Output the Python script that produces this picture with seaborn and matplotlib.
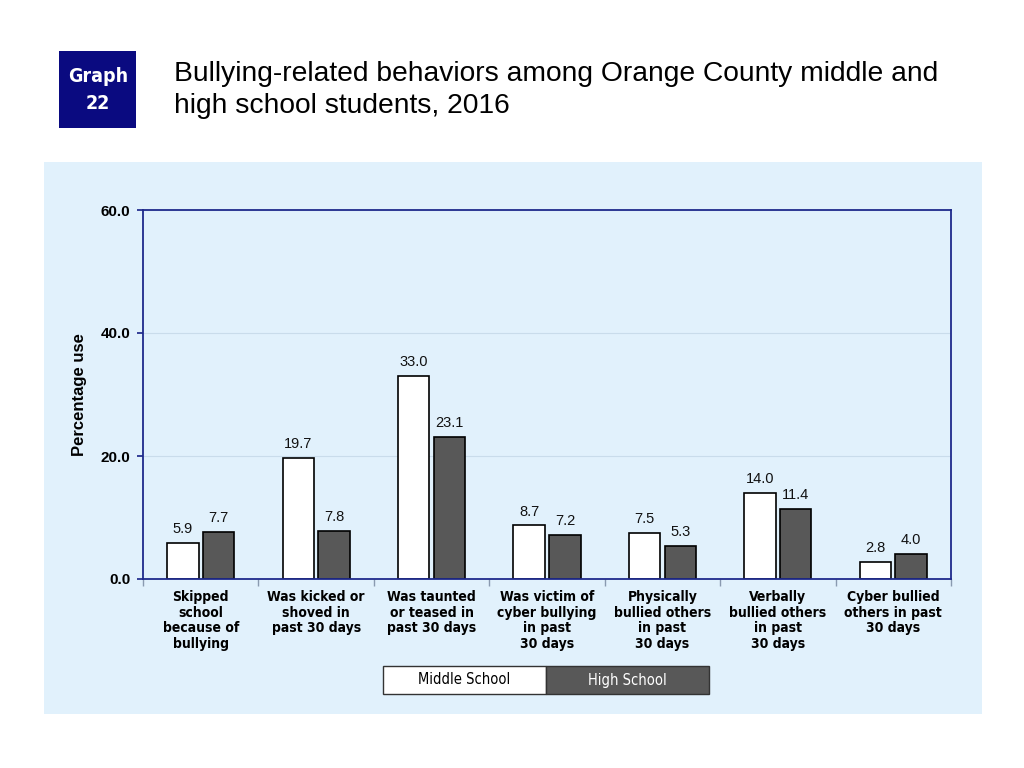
import matplotlib
matplotlib.use("Agg")
import matplotlib.pyplot as plt
import seaborn as sns
import pandas as pd
import numpy as np
from matplotlib.patches import Rectangle

categories = [
    "Skipped\nschool\nbecause of\nbullying",
    "Was kicked or\nshoved in\npast 30 days",
    "Was taunted\nor teased in\npast 30 days",
    "Was victim of\ncyber bullying\nin past\n30 days",
    "Physically\nbullied others\nin past\n30 days",
    "Verbally\nbullied others\nin past\n30 days",
    "Cyber bullied\nothers in past\n30 days",
]
middle_school = [5.9, 19.7, 33.0, 8.7, 7.5, 14.0, 2.8]
high_school = [7.7, 7.8, 23.1, 7.2, 5.3, 11.4, 4.0]
series = ["Middle School", "High School"]
y_ticks = [0, 20, 40, 60]

df = pd.DataFrame({
    "category": categories * 2,
    "value": middle_school + high_school,
    "group": [series[0]] * len(categories) + [series[1]] * len(categories),
})

sns.set_theme(style="white")
plt.rcParams["font.family"] = ["Liberation Sans", "DejaVu Sans"]
plt.rcParams["text.color"] = "black"
plt.rcParams["axes.labelcolor"] = "black"
plt.rcParams["xtick.color"] = "black"
plt.rcParams["ytick.color"] = "black"

BG = "#E1F1FC"
NAVY = "#1F2A8C"
DARK = "#585858"
COND = dict(family="DejaVu Sans", stretch="condensed")

fig = plt.figure(figsize=(10.24, 7.68), dpi=100)
fig.patch.set_facecolor("white")

# light blue panel
fig.patches.append(Rectangle((44 / 1024, 1 - 714 / 768), (982 - 44) / 1024, (714 - 162) / 768,
                             transform=fig.transFigure, facecolor=BG, edgecolor="none", zorder=-5))

# Graph box
fig.patches.append(Rectangle((59 / 1024, 1 - 128 / 768), 77 / 1024, 77 / 768,
                             transform=fig.transFigure, facecolor="#0A0A80", edgecolor="none", zorder=1))
fig.text(98 / 1024, 1 - 90 / 768, "Graph\n22", color="white", ha="center", va="center",
         fontsize=14, fontweight="bold", linespacing=1.5, zorder=2, **COND)

fig.text(174 / 1024, 1 - 90 / 768,
         "Bullying-related behaviors among Orange County middle and\nhigh school students, 2016",
         ha="left", va="center", fontsize=20.3, color="black", linespacing=1.33)

ax = fig.add_axes([143 / 1024, 1 - 579 / 768, 808 / 1024, 369 / 768], zorder=2)
ax.set_facecolor(BG)

sns.barplot(data=df, x="category", y="value", hue="group", order=categories,
            hue_order=series, palette=["white", DARK], width=0.62, gap=0.12,
            edgecolor="black", linewidth=1.2, ax=ax, legend=False)

for container in ax.containers:
    ax.bar_label(container, fmt="%.1f", padding=5, fontsize=10.5, color="#111111")

ax.set_ylim(0, 60)
ax.set_xlim(-0.5, len(categories) - 0.5)
ax.set_yticks(y_ticks)
ax.set_yticklabels([f"{v:.1f}" for v in y_ticks], fontsize=11, fontweight="bold")
ax.yaxis.grid(True, color="#C9DCEB", linewidth=0.8)
ax.set_axisbelow(True)
for s in ax.spines.values():
    s.set_color(NAVY)
    s.set_linewidth(1.3)
ax.tick_params(axis="y", length=4, color=NAVY, direction="out", pad=5, left=True)

ax.set_xticks(np.arange(len(categories)))
ax.set_xticklabels(categories, fontsize=10, fontweight="bold", linespacing=1.15, **COND)
ax.tick_params(axis="x", length=0, pad=8)
# category separators
ax.set_xticks(np.arange(len(categories) + 1) - 0.5, minor=True)
ax.tick_params(axis="x", which="minor", length=5, color="#8A9AB0", direction="out", bottom=True)

ax.set_xlabel("")
ax.set_ylabel("Percentage use", fontsize=12, fontweight="bold", labelpad=10)

# custom legend box
lx, ly, lw, lh = 383 / 1024, 1 - 694 / 768, 163 / 1024, 28 / 768
fig.patches.append(Rectangle((lx, ly), lw, lh, transform=fig.transFigure,
                             facecolor="white", edgecolor="#333333", linewidth=1, zorder=3))
fig.patches.append(Rectangle((lx + lw, ly), lw, lh, transform=fig.transFigure,
                             facecolor=DARK, edgecolor="#333333", linewidth=1, zorder=3))
fig.text(lx + lw / 2, ly + lh / 2, series[0], ha="center", va="center", fontsize=10.5,
         color="black", zorder=4, **COND)
fig.text(lx + 1.5 * lw, ly + lh / 2, series[1], ha="center", va="center", fontsize=10.5,
         color="white", zorder=4, **COND)

fig.savefig("out.png", dpi=100, facecolor="white")
